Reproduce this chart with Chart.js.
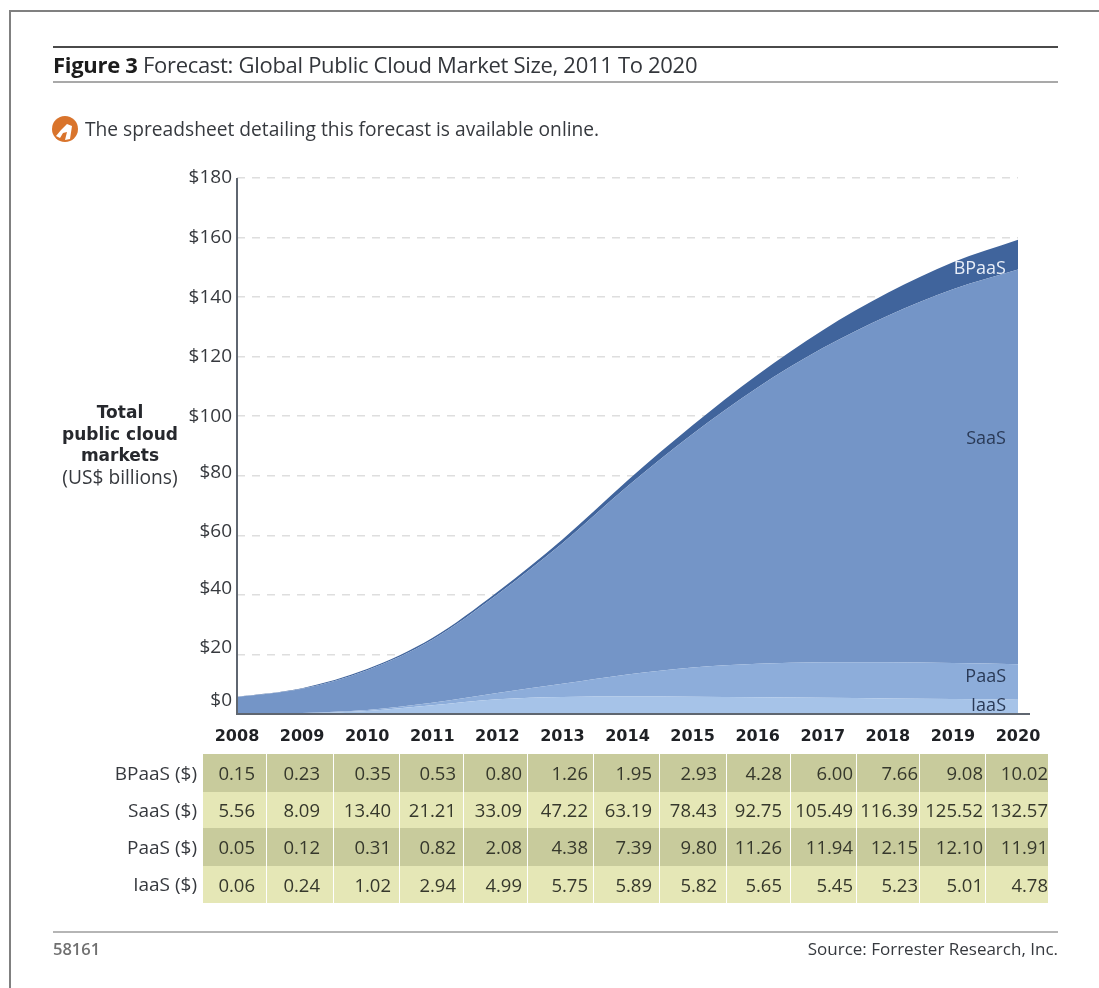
<!DOCTYPE html>
<html>
<head>
<meta charset="utf-8">
<style>
  html, body { margin: 0; padding: 0; background: #fff; }
  #page { position: relative; width: 1099px; height: 988px; overflow: hidden; font-family: "Open Sans", sans-serif; color: #36393e; filter: blur(0.45px); }
  #page div.txt { position: absolute; white-space: nowrap; }
  #page div.rule { position: absolute; }
  #chartBox { position: absolute; left: 0; top: 0; width: 1099px; height: 760px; }
  #frame { position: absolute; left: 9px; top: 10px; width: 1090px; height: 978px; border-left: 2px solid #808080; border-top: 2px solid #808080; box-sizing: border-box; }
  .cell { position: absolute; box-sizing: border-box; text-align: right; font-size: 18.5px; color: #36382c; }
</style>
</head>
<body>
<div id="page">
  <div id="frame"></div>
  <div id="chartBox"><canvas id="cloudChart"></canvas></div>
</div>
<script src="https://cdn.jsdelivr.net/npm/chart.js@4/dist/chart.umd.min.js"></script>
<script>
const years = ["2008","2009","2010","2011","2012","2013","2014","2015","2016","2017","2018","2019","2020"];
const bpaas = [0.15,0.23,0.35,0.53,0.80,1.26,1.95,2.93,4.28,6.00,7.66,9.08,10.02];
const saas = [5.56,8.09,13.40,21.21,33.09,47.22,63.19,78.43,92.75,105.49,116.39,125.52,132.57];
const paas = [0.05,0.12,0.31,0.82,2.08,4.38,7.39,9.80,11.26,11.94,12.15,12.10,11.91];
const iaas = [0.06,0.24,1.02,2.94,4.99,5.75,5.89,5.82,5.65,5.45,5.23,5.01,4.78];
const yTicks = [0,20,40,60,80,100,120,140,160,180];

// the $ labels drift away from their grid lines in the original, toward the bottom
const yLabelNudge = [-13,-7,-6,-4,-3,0,0,0,0,0];

// table layout
const colEdges = [203,267,334,400,464,528,594,660,727,791,857,920,986,1049];
const textRight = [255,320,391,456,522,588,652,717,782,853,918,983,1048];
const rowEdges = [754,792,828,866,903];
const rowColors = ["#c8cb9c","#e5e7b6","#c8cb9c","#e5e7b6"];

const page = document.getElementById("page");

function addText(str, x, y, css) {
  const el = document.createElement("div");
  el.className = "txt";
  el.textContent = str;
  el.style.left = x + "px";
  el.style.top = y + "px";
  el.style.cssText += css || "";
  page.appendChild(el);
  return el;
}

function addRule(x, y, w, h, color) {
  const el = document.createElement("div");
  el.className = "rule";
  el.style.cssText = `left:${x}px;top:${y}px;width:${w}px;height:${h}px;background:${color}`;
  page.appendChild(el);
}

// header and footer
addRule(53, 46, 1005, 2, "#4a4a4a");
addRule(53, 81, 1005, 2, "#a9a9a9");
addRule(53, 931, 1005, 2, "#b5b5b5");
const title = addText("", 53, 49, "font-size:22px;line-height:30px;color:#33363b;letter-spacing:-0.3px");
title.innerHTML = '<b style="color:#1c1c1c">Figure 3</b> Forecast: Global Public Cloud Market Size, 2011 To 2020';
addText("The spreadsheet detailing this forecast is available online.", 85, 116, "font-size:19.2px;line-height:26px");
addText("58161", 53, 939, "font-size:16.5px;line-height:20px;font-weight:600;color:#707070");
addText("Source: Forrester Research, Inc.", 0, 937, "font-size:17px;line-height:24px;left:auto;right:41px");

// orange icon
const icon = document.createElement("div");
icon.className = "rule";
icon.style.cssText = "left:52px;top:116px;width:26px;height:26px";
icon.innerHTML = '<svg width="26" height="26"><circle cx="13" cy="13" r="13" fill="#d9742c"/><path d="M4 20 L9 14 L15 8 L20 10 L18 23 L13 24 L15 16 L11 17 L8 22 Z" fill="#fff"/></svg>';
page.appendChild(icon);

// y axis caption
const capStyle = "width:140px;left:50px;text-align:center;";
addText("Total", 50, 401, capStyle + 'font:bold 17px "DejaVu Sans";line-height:22px;color:#26282d');
addText("public cloud", 50, 423, capStyle + 'font:bold 17px "DejaVu Sans";line-height:22px;color:#26282d');
addText("markets", 50, 444, capStyle + 'font:bold 17px "DejaVu Sans";line-height:22px;color:#26282d');
addText("(US$ billions)", 50, 465, capStyle + "font-size:19.2px;line-height:24px");

// series names inside the areas
const nameStyle = "left:auto;right:93px;font-size:18px;line-height:22px;";
addText("BPaaS", 0, 256, nameStyle + "color:#e8eef8");
addText("SaaS", 0, 426, nameStyle + "color:#2a3a57");
addText("PaaS", 0, 664, nameStyle + "color:#2a3a57");
addText("IaaS", 0, 693, nameStyle + "color:#2a3a57");

// data table under the chart
const tableRows = [
  ["BPaaS ($)", bpaas],
  ["SaaS ($)", saas],
  ["PaaS ($)", paas],
  ["IaaS ($)", iaas],
];
tableRows.forEach(([name, values], r) => {
  addText(name, 0, rowEdges[r], `left:auto;right:${1099 - 197}px;font-size:19px;line-height:${rowEdges[r + 1] - rowEdges[r]}px`);
  values.forEach((v, c) => {
    const cell = document.createElement("div");
    cell.className = "cell";
    cell.textContent = v.toFixed(2);
    const left = colEdges[c], right = colEdges[c + 1];
    cell.style.left = left + "px";
    cell.style.top = rowEdges[r] + "px";
    cell.style.width = (right - left - 1) + "px";
    cell.style.height = (rowEdges[r + 1] - rowEdges[r]) + "px";
    cell.style.lineHeight = (rowEdges[r + 1] - rowEdges[r]) + "px";
    cell.style.background = rowColors[r];
    cell.style.paddingRight = Math.max(0, right - 1 - textRight[c]) + "px";
    page.appendChild(cell);
  });
});

// y labels and the bottom axis run past the plot, so they are drawn here
const axisExtras = {
  id: "axisExtras",
  afterDatasetsDraw(chart) {
    const { ctx, chartArea, scales } = chart;
    ctx.save();
    ctx.strokeStyle = "#5f6670";
    ctx.lineWidth = 2;
    ctx.beginPath();
    ctx.moveTo(chartArea.left, scales.y.top);
    ctx.lineTo(chartArea.left, scales.y.bottom);
    ctx.moveTo(chartArea.left - 1, scales.y.bottom);
    ctx.lineTo(chartArea.right + 12, scales.y.bottom);
    ctx.stroke();
    ctx.fillStyle = "#36393e";
    ctx.font = '19px "Open Sans"';
    ctx.textAlign = "right";
    ctx.textBaseline = "middle";
    yTicks.forEach((t, i) => {
      ctx.fillText("$" + t, chartArea.left - 5, scales.y.getPixelForValue(t) + yLabelNudge[i]);
    });
    ctx.restore();
  },
};

function areaSet(label, data, color, fill) {
  return {
    label: label,
    data: data,
    backgroundColor: color,
    borderColor: color,
    borderWidth: 0,
    pointRadius: 0,
    fill: fill,
    cubicInterpolationMode: "monotone",
  };
}

new Chart(document.getElementById("cloudChart"), {
  type: "line",
  data: {
    labels: years,
    datasets: [
      areaSet("IaaS", iaas, "#a6c3e8", "origin"),
      areaSet("PaaS", paas, "#8dadda", "-1"),
      areaSet("SaaS", saas, "#7495c7", "-1"),
      areaSet("BPaaS", bpaas, "#40649c", "-1"),
    ],
  },
  options: {
    responsive: true,
    maintainAspectRatio: false,
    animation: false,
    layout: { padding: { left: 237, right: 81, top: 178, bottom: 6 } },
    plugins: { legend: { display: false }, tooltip: { enabled: false } },
    scales: {
      x: {
        offset: false,
        grid: { display: false },
        border: { display: false },
        afterFit(scale) { scale.height = 40; },
        ticks: {
          color: "#1f2125",
          padding: 5,
          maxRotation: 0,
          autoSkip: false,
          font: { family: "DejaVu Sans", weight: "bold", size: 16 },
        },
      },
      y: {
        stacked: true,
        min: 0,
        max: 180,
        afterBuildTicks(scale) { scale.ticks = yTicks.map((v) => ({ value: v })); },
        grid: { color: "#dedede", lineWidth: 1.5, drawTicks: false },
        border: { display: false, dash: [8, 7] },
        ticks: { display: false },
      },
    },
  },
  plugins: [axisExtras],
});
</script>
</body>
</html>
